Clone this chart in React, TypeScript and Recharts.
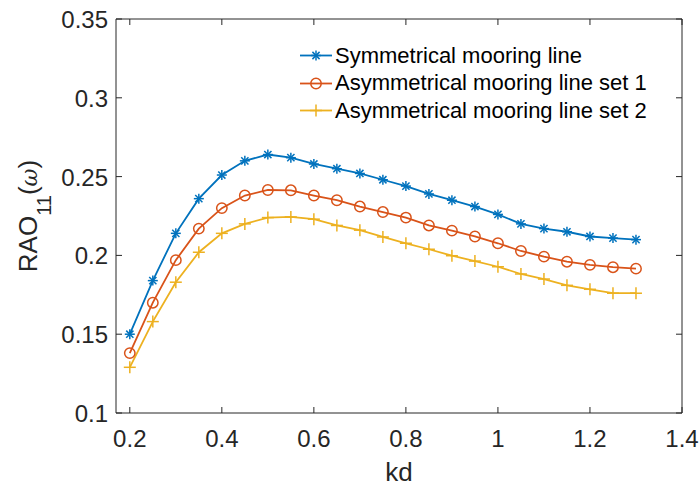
import React from 'react';
import { LineChart, Line, XAxis, YAxis, Legend, CartesianGrid } from 'recharts';

const kd = [0.2, 0.25, 0.3, 0.35, 0.4, 0.45, 0.5, 0.55, 0.6, 0.65, 0.7, 0.75, 0.8, 0.85, 0.9, 0.95, 1.0, 1.05, 1.1, 1.15, 1.2, 1.25, 1.3];
const symmetrical = [0.150, 0.184, 0.214, 0.236, 0.251, 0.260, 0.264, 0.262, 0.258, 0.255, 0.252, 0.248, 0.244, 0.239, 0.235, 0.231, 0.226, 0.220, 0.217, 0.215, 0.212, 0.211, 0.210];
const asymSet1 = [0.138, 0.170, 0.197, 0.217, 0.230, 0.238, 0.2415, 0.2413, 0.238, 0.235, 0.231, 0.2275, 0.224, 0.219, 0.2157, 0.212, 0.2077, 0.2028, 0.1992, 0.196, 0.194, 0.1925, 0.1916];
const asymSet2 = [0.129, 0.158, 0.183, 0.202, 0.214, 0.220, 0.224, 0.2244, 0.223, 0.219, 0.216, 0.2117, 0.2077, 0.2039, 0.1998, 0.1964, 0.1928, 0.1882, 0.185, 0.181, 0.1785, 0.176, 0.176];

const xTicks = [0.2, 0.4, 0.6, 0.8, 1, 1.2, 1.4];
const yTicks = [0.1, 0.15, 0.2, 0.25, 0.3, 0.35];
const seriesNames = ['Symmetrical mooring line', 'Asymmetrical mooring line set 1', 'Asymmetrical mooring line set 2'];

const X_DOMAIN = [0.17, 1.4];
const Y_DOMAIN = [0.1, 0.35];

const BLUE = '#0072BD';
const ORANGE = '#D95319';
const YELLOW = '#EDB120';
const AXIS = '#262626';
const FONT = '"Liberation Sans", Arial, Helvetica, sans-serif';

// chart frame
const W = 700;
const H = 486;
const MARGIN = { top: 19, right: 18, bottom: 0, left: 0 };
const Y_AXIS_W = 116;
const X_AXIS_H = 73;
const PLOT_TOP = MARGIN.top;
const PLOT_RIGHT = W - MARGIN.right;

const data = kd.map((k, i) => ({ kd: k, sym: symmetrical[i], a1: asymSet1[i], a2: asymSet2[i] }));

// marker shapes (MATLAB style)
const Star = ({ cx, cy, color }: any) => (
  <g stroke={color} strokeWidth={1.5}>
    <line x1={cx - 5} y1={cy} x2={cx + 5} y2={cy} />
    <line x1={cx} y1={cy - 5} x2={cx} y2={cy + 5} />
    <line x1={cx - 3.6} y1={cy - 3.6} x2={cx + 3.6} y2={cy + 3.6} />
    <line x1={cx - 3.6} y1={cy + 3.6} x2={cx + 3.6} y2={cy - 3.6} />
  </g>
);
const Ring = ({ cx, cy, color }: any) => (
  <circle cx={cx} cy={cy} r={5.2} fill="none" stroke={color} strokeWidth={1.5} />
);
const Plus = ({ cx, cy, color }: any) => (
  <g stroke={color} strokeWidth={1.5}>
    <line x1={cx - 6} y1={cy} x2={cx + 6} y2={cy} />
    <line x1={cx} y1={cy - 6} x2={cx} y2={cy + 6} />
  </g>
);

const fmt = (v: number) => String(Number(v.toFixed(2)));

// bottom tick + mirrored tick on the top edge of the box
const BottomTick = ({ x, y, payload }: any) => (
  <g>
    <line x1={x} x2={x} y1={y} y2={y - 6} stroke={AXIS} />
    <line x1={x} x2={x} y1={PLOT_TOP} y2={PLOT_TOP + 6} stroke={AXIS} />
    <text x={x} y={y + 34} textAnchor="middle" fontSize={24} fontFamily={FONT} fill={AXIS}>{fmt(payload.value)}</text>
  </g>
);
// left tick + mirrored tick on the right edge of the box
const LeftTick = ({ x, y, payload }: any) => (
  <g>
    <line x1={x} x2={x + 6} y1={y} y2={y} stroke={AXIS} />
    <line x1={PLOT_RIGHT} x2={PLOT_RIGHT - 6} y1={y} y2={y} stroke={AXIS} />
    <text x={x - 8} y={y + 9} textAnchor="end" fontSize={24} fontFamily={FONT} fill={AXIS}>{fmt(payload.value)}</text>
  </g>
);

const YLabel = ({ viewBox }: any) => {
  const cy = viewBox ? viewBox.y + viewBox.height / 2 : 216;
  return (
    <text transform={`translate(37, ${cy}) rotate(-90)`} textAnchor="middle" fontSize={26} fontFamily={FONT} fill={AXIS}>
      RAO<tspan fontSize={20} dy={14}>11</tspan><tspan dy={-14}>(</tspan><tspan fontStyle="italic" fontFamily="'DejaVu Serif', serif" fontSize={22}>ω</tspan>)
    </text>
  );
};

const XLabel = ({ viewBox }: any) => {
  const cx = viewBox ? viewBox.x + viewBox.width / 2 : 399;
  return (
    <text x={cx} y={481} textAnchor="middle" fontSize={26} fontFamily={FONT} fill={AXIS}>kd</text>
  );
};

const legendItems = [
  { name: seriesNames[0], color: BLUE, Marker: Star },
  { name: seriesNames[1], color: ORANGE, Marker: Ring },
  { name: seriesNames[2], color: YELLOW, Marker: Plus },
];

const LegendBox = () => (
  <div style={{ fontFamily: FONT, fontSize: 22, color: '#000' }}>
    {legendItems.map(({ name, color, Marker }) => (
      <div key={name} style={{ display: 'flex', alignItems: 'center', height: 27.5, whiteSpace: 'nowrap' }}>
        <svg width={36} height={27} style={{ display: 'block' }}>
          <line x1={1} x2={33} y1={13.5} y2={13.5} stroke={color} strokeWidth={1.8} />
          <Marker cx={17} cy={13.5} color={color} />
        </svg>
        <span>{name}</span>
      </div>
    ))}
  </div>
);

export default function App() {
  return (
    <div style={{ width: W, height: H, background: '#fff' }}>
      <style>{'body{margin:0}'}</style>
      <LineChart width={W} height={H} data={data} margin={MARGIN}>
        {/* top and right edges of the box */}
        <CartesianGrid
          stroke={AXIS} strokeWidth={1}
          horizontalCoordinatesGenerator={({ offset }: any) => [offset.top]}
          verticalCoordinatesGenerator={({ offset }: any) => [offset.left + offset.width]}
        />
        <XAxis
          dataKey="kd" type="number" domain={X_DOMAIN} allowDataOverflow ticks={xTicks} interval={0}
          height={X_AXIS_H} tickSize={0} tickMargin={0} tick={<BottomTick />}
          axisLine={{ stroke: AXIS, strokeWidth: 1 }} label={<XLabel />}
        />
        <YAxis
          type="number" domain={Y_DOMAIN} allowDataOverflow ticks={yTicks} interval={0}
          width={Y_AXIS_W} tickSize={0} tickMargin={0} tick={<LeftTick />}
          axisLine={{ stroke: AXIS, strokeWidth: 1 }} label={<YLabel />}
        />
        <Legend
          layout="vertical" align="center" verticalAlign="middle"
          wrapperStyle={{ top: 42, left: 299, width: 'auto', height: 'auto' }}
          content={<LegendBox />}
        />
        <Line
          dataKey="sym" name={seriesNames[0]} stroke={BLUE} strokeWidth={1.8} isAnimationActive={false}
          dot={(p: any) => <Star key={`s${p.index}`} cx={p.cx} cy={p.cy} color={BLUE} />}
        />
        <Line
          dataKey="a1" name={seriesNames[1]} stroke={ORANGE} strokeWidth={1.8} isAnimationActive={false}
          dot={(p: any) => <Ring key={`o${p.index}`} cx={p.cx} cy={p.cy} color={ORANGE} />}
        />
        <Line
          dataKey="a2" name={seriesNames[2]} stroke={YELLOW} strokeWidth={1.8} isAnimationActive={false}
          dot={(p: any) => <Plus key={`p${p.index}`} cx={p.cx} cy={p.cy} color={YELLOW} />}
        />
      </LineChart>
    </div>
  );
}
